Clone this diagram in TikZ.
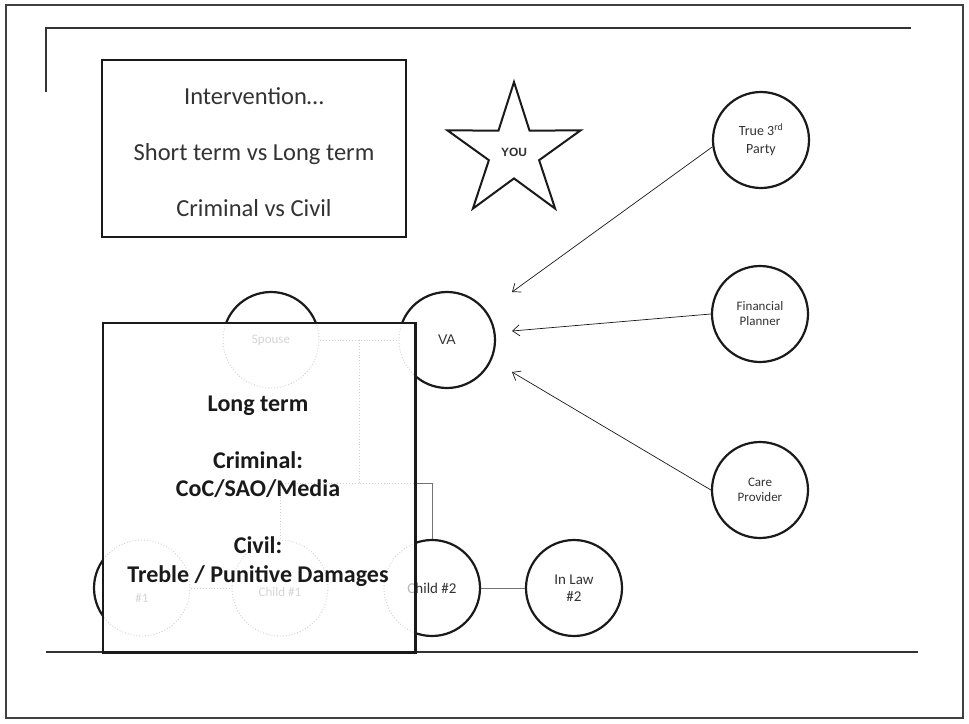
\documentclass[tikz,border=0pt]{standalone}
\usepackage{fontspec}
\setmainfont{Carlito}
\newfontfamily\arialf{Liberation Sans}
\usetikzlibrary{shapes.geometric,arrows.meta}
\definecolor{ink}{HTML}{1A1A1A}
\definecolor{txt}{HTML}{333333}
\definecolor{ghost}{HTML}{7A7A7A}
\definecolor{ghostt}{HTML}{888888}
\begin{document}
\begin{tikzpicture}[x=1pt,y=-1pt,
  person/.style={circle,draw=ink,line width=2.2pt,minimum size=96pt,inner sep=0pt,align=center,text=txt},
  arr/.style={-{Straight Barb[length=7pt,width=11pt]},line width=0.7pt,draw=ink},
  tie/.style={draw=black!55,line width=1pt},
  ghostline/.style={draw=ghost,line width=0.9pt,dotted},
  ghosttext/.style={text=ghostt,align=center},
]
\useasboundingbox (0,0) rectangle (969,723);
\fill[white] (0,0) rectangle (969,723);
% frames
\draw[draw=black!75,line width=1.5pt] (6,5) rectangle (963,718);
\draw[black!80,line width=2pt] (46,92) -- (46,28) -- (911,28);
\draw[black!80,line width=1.5pt] (46,652) -- (918,652);

% intervention box
\node[draw=ink,line width=2pt,minimum width=304pt,minimum height=177pt,inner sep=0pt] (intv) at (254,148.5) {};
\node[align=center,text=txt,font=\fontsize{24.5}{56}\selectfont] (intvtxt) at (254,152)
  {Intervention…\\Short term vs Long term\\Criminal vs Civil};

% star
\node[star,star points=5,star point ratio=2.65,minimum size=140pt,draw=ink,line width=2pt,inner sep=0pt,
  text=txt,font=\arialf\bfseries\fontsize{12}{14}\selectfont] (you) at (514,152) {YOU};

% people
\node[person,font=\arialf\fontsize{14}{16}\selectfont] (va) at (447,340) {VA};
\node[person,font=\fontsize{14}{18}\selectfont] (tp) at (761,140) {True 3\textsuperscript{rd}\\Party};
\node[person,font=\fontsize{13}{15}\selectfont] (fp) at (760,314) {Financial\\Planner};
\node[person,font=\fontsize{13}{15}\selectfont] (cp) at (760,490) {Care\\Provider};
\node[person,font=\fontsize{15}{17}\selectfont] (il2) at (574,588) {In Law\\\#2};
\node[person] (c2) at (432,588) {};
\node[person] (sp) at (271,340) {};
\node[person] (c1) at (280,588) {};
\node[person] (il1) at (142,588) {};

% family ties
\coordinate (mar) at (359,340);
\coordinate (kids) at (359,483);
\draw[tie] (sp) -- (va);
\draw[tie] (mar) -- (kids);
\draw[tie] (c1.north) |- (kids) -| (c2.north);
\draw[tie] (il1) -- (c1);
\draw[tie] (c2) -- (il2);

% arrows to VA
\coordinate (a1) at (512,292);
\coordinate (a2) at (512,331);
\coordinate (a3) at (512,372);
\draw[arr] (tp.188) -- (a1);
\draw[arr] (fp.west) -- (a2);
\draw[arr] (cp.west) -- (a3);

% long term box
\node[fill=white,minimum width=312pt,minimum height=329pt,inner sep=0pt] (lt) at (259,487.5) {};
\begin{scope}
  \clip (lt.south west) rectangle (lt.north east);
  \foreach \n in {sp,va,c1,c2,il1}{\draw[ghostline] (\n.center) circle[radius=48pt];}
  \draw[ghostline] (sp) -- (va);
  \draw[ghostline] (mar) -- (kids);
  \draw[ghostline] (c1.north) |- (kids) -| (c2.north);
  \draw[ghostline] (il1) -- (c1);
  \node[ghosttext,font=\fontsize{13}{15}\selectfont] (gsp) at (sp) {Spouse};
  \node[ghosttext,font=\fontsize{13}{15}\selectfont] (gc1) at (280,592) {Child \#1};
  \node[ghosttext,font=\fontsize{13}{15}\selectfont] (gil1) at (142,598) {\#1};
\end{scope}
\node[text=txt,font=\fontsize{15}{17}\selectfont] (c2txt) at (c2) {Child \#2};
\fill[white,opacity=0.65] (lt.south west) rectangle (lt.north east);
\draw[ink,line width=2.6pt] (lt.south west) rectangle (lt.north east);
\node[align=center,text=ink,font=\bfseries\fontsize{24}{28.5}\selectfont] (lttxt) at (258,491)
  {Long term\\[28.5pt]Criminal:\\CoC/SAO/Media\\[28.5pt]Civil:\\Treble / Punitive Damages};
\end{tikzpicture}
\end{document}
